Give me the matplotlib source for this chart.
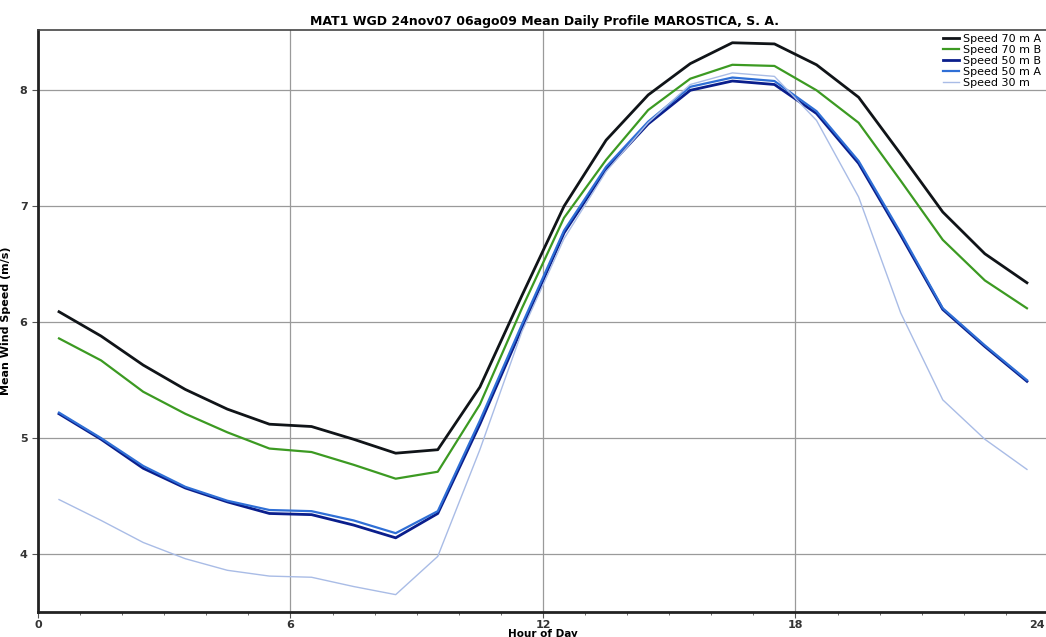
"""Mean daily wind speed profile, MAT1 WGD (24nov07 - 06ago09)."""

import matplotlib
matplotlib.use("Agg")
import matplotlib.pyplot as plt
from matplotlib.ticker import MultipleLocator

hours = [h + 0.5 for h in range(24)]
hour_ticks = [0, 6, 12, 18, 24]

speed_70m_a = [6.09, 5.88, 5.63, 5.42, 5.25, 5.12, 5.10, 4.99, 4.87, 4.90,
               5.44, 6.23, 7.00, 7.57, 7.96, 8.23, 8.41, 8.40, 8.22, 7.94,
               7.45, 6.95, 6.59, 6.34]
speed_70m_b = [5.86, 5.67, 5.40, 5.21, 5.05, 4.91, 4.88, 4.77, 4.65, 4.71,
               5.29, 6.12, 6.90, 7.40, 7.83, 8.10, 8.22, 8.21, 8.00, 7.72,
               7.22, 6.71, 6.36, 6.12]
speed_50m_b = [5.21, 4.99, 4.74, 4.57, 4.45, 4.35, 4.34, 4.25, 4.14, 4.35,
               5.12, 5.95, 6.77, 7.32, 7.71, 8.00, 8.08, 8.05, 7.80, 7.37,
               6.75, 6.11, 5.79, 5.49]
speed_50m_a = [5.22, 5.00, 4.76, 4.58, 4.46, 4.38, 4.37, 4.29, 4.18, 4.37,
               5.15, 5.98, 6.79, 7.34, 7.73, 8.03, 8.11, 8.08, 7.82, 7.39,
               6.77, 6.12, 5.80, 5.50]
speed_30m = [4.47, 4.29, 4.10, 3.96, 3.86, 3.81, 3.80, 3.72, 3.65, 3.98,
             4.90, 5.92, 6.72, 7.30, 7.72, 8.05, 8.15, 8.12, 7.74, 7.08,
             6.08, 5.33, 4.99, 4.73]

series = [
    ("Speed 70 m A", speed_70m_a, "#101418", 2.0),
    ("Speed 70 m B", speed_70m_b, "#3c9a22", 1.6),
    ("Speed 50 m B", speed_50m_b, "#0a1e8c", 2.0),
    ("Speed 50 m A", speed_50m_a, "#2f6fd6", 1.6),
    ("Speed 30 m", speed_30m, "#a9bce6", 1.0),
]

fig = plt.figure(figsize=(10.46, 6.37), dpi=100)
ax = fig.add_axes([0.0363, 0.0392, 0.9656, 0.9137])

for label, values, color, lw in series:
    ax.plot(hours, values, color=color, linewidth=lw, label=label, zorder=3)

ax.set_xlim(0, 24)
ax.set_ylim(3.5, 8.52)
ax.set_xticks(hour_ticks)
# the last hour label falls on the figure edge; drawn separately below
ax.set_xticklabels([str(h) for h in hour_ticks[:-1]] + [""])
ax.xaxis.set_minor_locator(MultipleLocator(1))
ax.yaxis.set_major_locator(MultipleLocator(1))
ax.grid(True, which="major", color="#9a9a9a", linewidth=0.9, zorder=0)

for side in ("left", "bottom"):
    ax.spines[side].set_linewidth(2.0)
    ax.spines[side].set_color("#222222")
ax.spines["top"].set_linewidth(1.2)
ax.spines["top"].set_color("#444444")
ax.spines["right"].set_visible(False)

ax.tick_params(axis="both", which="major", labelsize=8, length=4,
               color="#555555", labelcolor="#333333")
ax.tick_params(axis="x", which="major", pad=2)
ax.tick_params(axis="x", which="minor", length=2, color="#555555")
for lbl in ax.get_xticklabels() + ax.get_yticklabels():
    lbl.set_fontweight("bold")

# put "24" on the same baseline as the other hour labels, inside the figure
fig.canvas.draw()
y_lbl = ax.get_xticklabels()[0].get_window_extent().y0 / fig.bbox.height
ax.annotate(str(hour_ticks[-1]), xy=(1.0, y_lbl), xycoords="figure fraction",
            xytext=(-1, 0), textcoords="offset points",
            ha="right", va="bottom", fontsize=8, fontweight="bold",
            color="#333333", annotation_clip=False)

ax.set_xlabel("Hour of Day", fontsize=7.5, fontweight="bold", labelpad=-1)
ax.set_ylabel("Mean Wind Speed (m/s)", fontsize=8, fontweight="bold",
              labelpad=6)
fig.text(0.521, 0.967,
         "MAT1 WGD 24nov07 06ago09 Mean Daily Profile MAROSTICA, S. A.",
         ha="center", va="center", fontsize=9, fontweight="bold")

ax.legend(loc="upper right", bbox_to_anchor=(1.0, 1.005), frameon=False,
          fontsize=8, handlelength=1.4, handletextpad=0.4, labelspacing=0.1,
          borderaxespad=0.2)

fig.savefig("out.png", dpi=100)
